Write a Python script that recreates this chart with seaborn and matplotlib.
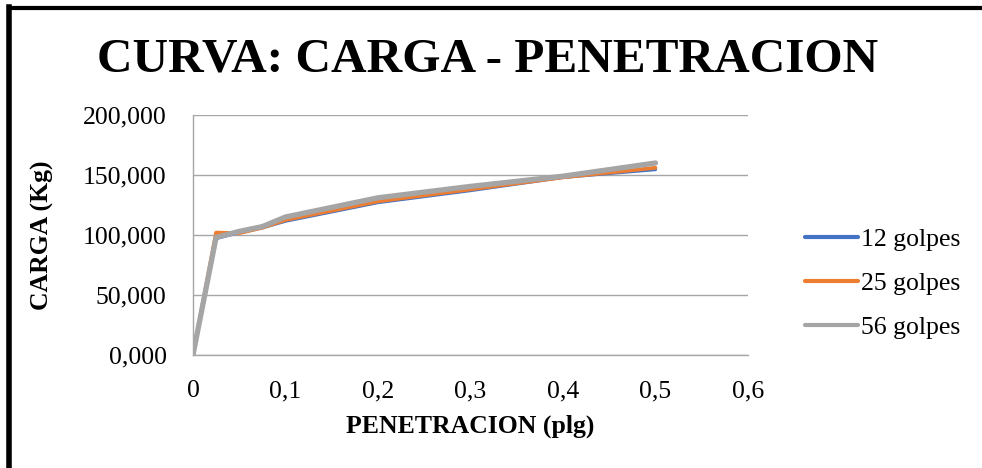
import matplotlib
matplotlib.use("Agg")
import matplotlib.pyplot as plt
from matplotlib.lines import Line2D
from matplotlib.ticker import FuncFormatter, MultipleLocator
import seaborn as sns
import pandas as pd

# Ensayo CBR: carga vs penetracion para tres energias de compactacion
penetracion = [0, 0.025, 0.05, 0.075, 0.1, 0.2, 0.3, 0.4, 0.5]
carga_12 = [0, 97, 102, 106, 111.5, 127, 137, 148, 154.5]
carga_25 = [0, 102, 101.5, 106, 112.5, 128, 138, 148, 156]
carga_56 = [0, 98, 103, 107, 115, 131, 140.5, 149, 160]

series = ["12 golpes", "25 golpes", "56 golpes"]
colores = ["#4472C4", "#ED7D31", "#A5A5A5"]
grosores = [2.3, 2.7, 3.8]

df = pd.concat(
    [pd.DataFrame({"pen": penetracion, "carga": c, "serie": s})
     for s, c in zip(series, [carga_12, carga_25, carga_56])],
    ignore_index=True,
)

sns.set_theme(style="white")
plt.rcParams["font.family"] = ["Liberation Serif", "DejaVu Serif"]
plt.rcParams["text.color"] = "black"
plt.rcParams["axes.labelcolor"] = "black"

fig = plt.figure(figsize=(9.82, 4.68), dpi=100)
ax = fig.add_axes([0.1965, 0.2415, 0.5652, 0.5128])

for s, col, lw in zip(series, colores, grosores):
    sns.lineplot(data=df[df["serie"] == s], x="pen", y="carga", color=col,
                 linewidth=lw, ax=ax, legend=False, solid_joinstyle="round",
                 solid_capstyle="round")

ax.set_xlim(0, 0.6)
ax.set_ylim(0, 200)
ax.xaxis.set_major_locator(MultipleLocator(0.1))
ax.yaxis.set_major_locator(MultipleLocator(50))


def fmt_x(v, _):
    if abs(v) < 1e-9:
        return "0"
    return f"{v:.1f}".replace(".", ",")


def fmt_y(v, _):
    return f"{v:.3f}".replace(".", ",")


ax.xaxis.set_major_formatter(FuncFormatter(fmt_x))
ax.yaxis.set_major_formatter(FuncFormatter(fmt_y))
ax.tick_params(axis="both", length=0, labelsize=18.5, colors="black")
ax.tick_params(axis="x", pad=18)
ax.tick_params(axis="y", pad=19)

ax.grid(axis="y", color="#A6A6A6", linewidth=1.0)
ax.set_axisbelow(True)
for side in ["top", "right"]:
    ax.spines[side].set_visible(False)
for side in ["left", "bottom"]:
    ax.spines[side].set_color("#A6A6A6")
    ax.spines[side].set_linewidth(1.0)

ax.set_xlabel("PENETRACION (plg)", fontsize=18.5, fontweight="bold")
ax.set_ylabel("CARGA (Kg)", fontsize=18.5, fontweight="bold", va="center")
ax.xaxis.set_label_coords(0.499, -0.25)
ax.yaxis.set_label_coords(-0.2705, 0.5)

fig.text(0.4965, 0.872, "CURVA: CARGA - PENETRACION", ha="center", va="center",
         fontsize=35.5, fontweight="bold")

handles = [Line2D([0], [0], color=c, linewidth=3) for c in colores]
fig.legend(handles, series, loc="center left", bbox_to_anchor=(0.7966, 0.395),
           frameon=False, fontsize=18.5, handlelength=2.05, handletextpad=0.1,
           labelspacing=0.82)

# Marco del grafico (bordes superior e izquierdo)
fig.add_artist(Line2D([0.0092, 0.0092], [0, 0.985], color="black", linewidth=4,
                      transform=fig.transFigure, solid_capstyle="projecting"))
fig.add_artist(Line2D([0.0092, 1.0], [0.982, 0.982], color="black", linewidth=3,
                      transform=fig.transFigure, solid_capstyle="projecting"))

fig.savefig("out.png", dpi=100)
